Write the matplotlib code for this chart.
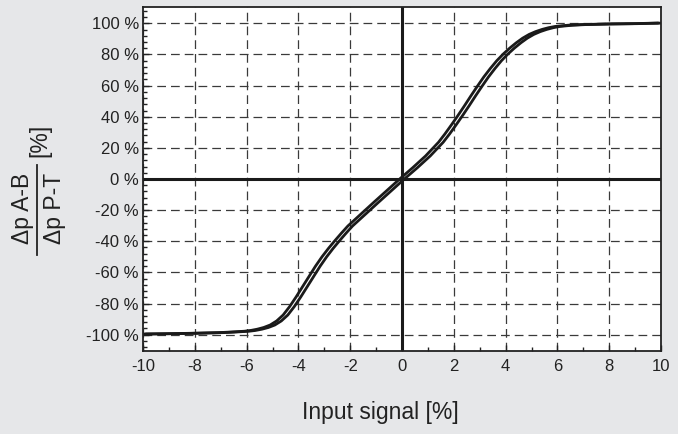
import matplotlib
matplotlib.use("Agg")
import matplotlib.pyplot as plt
from matplotlib.ticker import MultipleLocator, FuncFormatter
from matplotlib.lines import Line2D

plt.rcParams["font.family"] = ["Liberation Sans", "DejaVu Sans"]

# input signal [%] and output ratio [%]
input_signal = [-10, -9, -8, -7, -6.5, -6, -5.75, -5.5, -5.25, -5, -4.75,
                -4.5, -4.25, -4, -3.75, -3.5, -3.25, -3, -2.75, -2.5, -2.25,
                -2, -1.5, -1, -0.5, 0, 0.5, 1, 1.5, 1.75, 2, 2.25, 2.5, 2.75,
                3, 3.25, 3.5, 3.75, 4, 4.25, 4.5, 4.75, 5, 5.25, 5.5, 5.75, 6,
                6.5, 7, 8, 9, 10]
pressure_ratio = [-99.6, -99.4, -99.1, -98.7, -98.3, -97.8, -97.3, -96.5,
                  -95.4, -93.8, -91.2, -87.4, -82, -75.8, -69.2, -62.6, -56,
                  -50, -44.6, -39.6, -34.8, -30.2, -22.6, -15, -7.5, 0, 7.2,
                  14.8, 23.6, 29, 34.8, 40.8, 47, 53.4, 59.6, 65.6, 71, 76,
                  80.3, 84.1, 87.5, 90.5, 92.9, 94.7, 96.1, 97.2, 98, 98.8,
                  99.2, 99.6, 99.8, 100.2]
# horizontal shift between the rising and falling branch (hysteresis)
hysteresis = 0.09

rising_x = [x + hysteresis for x in input_signal]
falling_x = [x - hysteresis for x in input_signal]

BG = "#e6e7e9"

fig = plt.figure(figsize=(6.78, 4.34), dpi=100, facecolor=BG)
ax = fig.add_axes([143 / 678, 1 - 351 / 434, (661 - 143) / 678, (351 - 7) / 434])
ax.set_facecolor("white")

ax.set_xlim(-10, 10)
ax.set_ylim(-110.5, 110.5)

ax.xaxis.set_major_locator(MultipleLocator(2))
ax.xaxis.set_minor_locator(MultipleLocator(1))
ax.yaxis.set_major_locator(MultipleLocator(20))
ax.yaxis.set_minor_locator(MultipleLocator(4))
ax.yaxis.set_major_formatter(FuncFormatter(lambda v, p: f"{v:.0f} %"))
ax.xaxis.set_major_formatter(FuncFormatter(lambda v, p: f"{v:.0f}"))

ax.grid(True, which="major", color="#3a3a3a", lw=0.9, linestyle=(0, (7, 4)))
ax.axhline(0, color="#1a1a1a", lw=2.2)
ax.axvline(0, color="#1a1a1a", lw=2.2)

for bx in (rising_x, falling_x):
    ax.plot(bx, pressure_ratio, color="#1a1a1a", lw=2.0,
            solid_joinstyle="round", solid_capstyle="butt")

for s in ax.spines.values():
    s.set_color("#222222")
    s.set_linewidth(1.3)

ax.tick_params(which="both", direction="in", colors="#222222", labelsize=12,
               top=False, right=False)
ax.tick_params(which="major", length=4, width=1)
ax.tick_params(which="minor", length=3, width=1)
ax.tick_params(axis="y", pad=3)
ax.tick_params(axis="x", pad=6)

# y axis label drawn as a fraction
fig.text(22 / 678, 1 - 208 / 434, "\u0394p A-B", rotation=90, fontsize=16.5,
         ha="center", va="center", color="#222222")
fig.text(54 / 678, 1 - 208 / 434, "\u0394p P-T", rotation=90, fontsize=16.5,
         ha="center", va="center", color="#222222")
fig.add_artist(Line2D([37 / 678, 37 / 678], [1 - 165 / 434, 1 - 255 / 434],
                      color="#222222", lw=1.3, transform=fig.transFigure))
fig.text(40 / 678, 1 - 140 / 434, "[%]", rotation=90, fontsize=16.5,
         ha="center", va="center", color="#222222")

fig.text(380 / 678, 1 - 412 / 434, "Input signal [%]", fontsize=16.5,
         ha="center", va="center", color="#222222")

fig.savefig("out.png", dpi=100, facecolor=BG)
